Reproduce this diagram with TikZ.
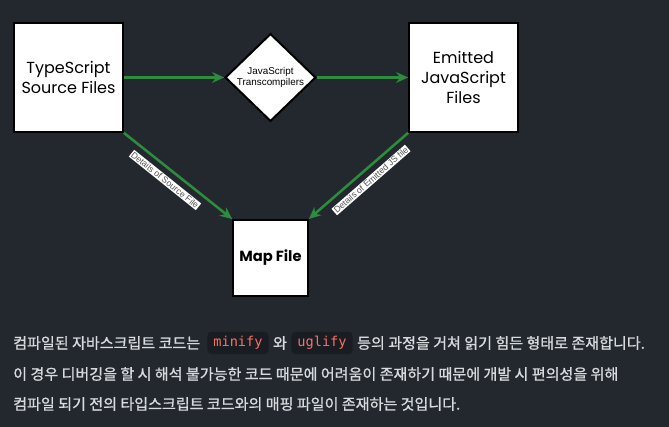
\documentclass[tikz,border=0pt]{standalone}
\usepackage{fontspec}
\setmainfont{Liberation Sans}
\newfontfamily\handfont{Poppins}
\newfontfamily\krfont[FakeBold=1]{Noto Sans CJK KR}
\newfontfamily\codefont{DejaVu Sans Mono}
\usetikzlibrary{positioning,shapes.geometric,arrows.meta}

\definecolor{bgdark}{RGB}{34,40,46}
\definecolor{flowgreen}{RGB}{46,140,62}
\definecolor{codebg}{RGB}{25,29,33}
\definecolor{codered}{RGB}{248,112,103}
\definecolor{bodytext}{RGB}{216,219,222}
\definecolor{lblgray}{RGB}{85,85,85}

\begin{document}
\begin{tikzpicture}[x=0.75pt,y=0.75pt,yscale=-1,xscale=1,
  filebox/.style={draw=black, fill=white, line width=1.5pt, align=center,
    font=\handfont\fontsize{12}{15}\selectfont},
  decision/.style={diamond, draw=black, fill=white, line width=1.5pt, inner sep=0pt,
    minimum width=68pt, minimum height=62pt, align=center,
    font=\fontsize{7.4}{8.6}\selectfont},
  flow/.style={draw=flowgreen, line width=1.9pt, -{Stealth[length=9pt,width=8pt]}},
  lbl/.style={fill=white, text=lblgray, inner sep=0.8pt, font=\fontsize{6.6}{7}\selectfont},
  body/.style={text=bodytext, inner sep=0pt, anchor=west, font=\krfont\fontsize{11.3}{13}\selectfont},
  code/.style={fill=codebg, text=codered, rounded corners=3pt, inner xsep=4.5pt,
    minimum height=14.5pt, font=\codefont\fontsize{10.2}{12}\selectfont}
]
%background
\fill[bgdark] (0,0) rectangle (669,427);
\useasboundingbox (0,0) rectangle (669,427);

%diagram
\node[filebox, minimum width=81.5pt, minimum height=81.5pt] (ts) at (68.5,77.5) {TypeScript\\Source Files};
\node[decision] (tc) at (270.5,77.5) {JavaScript\\Transcompilers};
\node[filebox, minimum width=81.5pt, minimum height=81.5pt] (ej) at (463.5,77.5) {Emitted\\JavaScript\\Files};
\node[filebox, minimum width=56pt, minimum height=57pt, font=\handfont\bfseries\fontsize{11}{13}\selectfont] (map) at (270.5,258) {Map File};

\draw[flow] (ts) -- (tc);
\draw[flow] (tc) -- (ej);
\draw[flow] (ts.south east) -- (map.north west);
\draw[flow] (ej.south west) -- (map.north east);

%edge labels
\node[lbl, rotate=-38.7] (srclbl) at (165,180) {Details of Source File};
\node[lbl, rotate=41.1] (jslbl) at (371,180) {Details of Emitted JS file};

%text below
\node[body] (l1a) at (13,343) {컴파일된 자바스크립트 코드는};
\node[code, right=5pt of l1a] (c1) {minify};
\node[body, right=3pt of c1] (l1b) {와};
\node[code, right=3pt of l1b] (c2) {uglify};
\node[body, right=3pt of c2] (l1c) {등의 과정을 거쳐 읽기 힘든 형태로 존재합니다.};
\node[body] (l2) at (13,374) {이 경우 디버깅을 할 시 해석 불가능한 코드 때문에 어려움이 존재하기 때문에 개발 시 편의성을 위해};
\node[body] (l3) at (13,404) {컴파일 되기 전의 타입스크립트 코드와의 매핑 파일이 존재하는 것입니다.};
\end{tikzpicture}
\end{document}
